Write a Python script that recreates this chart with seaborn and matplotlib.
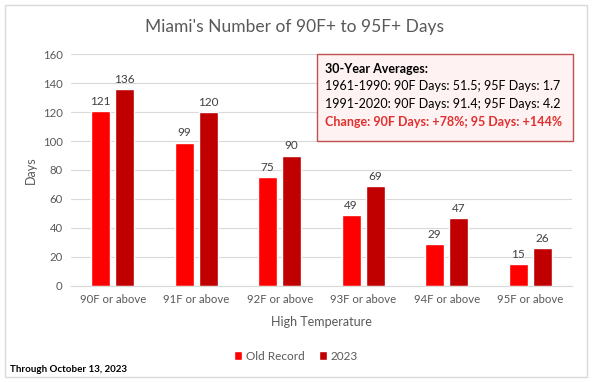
import pandas as pd
import numpy as np
import seaborn as sns
import matplotlib.pyplot as plt
from matplotlib.patches import Rectangle

# chart data
categories = ['90F or above', '91F or above', '92F or above', '93F or above', '94F or above', '95F or above']
old_record = [121, 99, 75, 49, 29, 15]
year_2023 = [136, 120, 90, 69, 47, 26]
series_names = ['Old Record', '2023']

box_lines = ['30-Year Averages:',
             '1961-1990: 90F Days: 51.5; 95F Days: 1.7',
             '1991-2020: 90F Days: 91.4; 95F Days: 4.2',
             'Change: 90F Days: +78%; 95 Days: +144%']

df = pd.DataFrame({
    'Temp': categories * 2,
    'Days': old_record + year_2023,
    'Series': [series_names[0]] * len(categories) + [series_names[1]] * len(categories),
})

sns.set_style('white')
plt.rcParams['font.family'] = ['Lato', 'DejaVu Sans']

text_col = '#595959'
fig = plt.figure(figsize=(5.92, 3.82), dpi=100)
ax = fig.add_axes([0.12, 0.252, 0.846, 0.606])

sns.barplot(data=df, x='Temp', y='Days', hue='Series', order=categories,
            hue_order=series_names, palette=['#FF0000', '#C00000'],
            width=0.575, gap=0.21, saturation=1, ax=ax, legend=True)

for cont in ax.containers:
    ax.bar_label(cont, padding=3, fontsize=8.5, color='#404040')

ax.set_ylim(0, 160)
ax.set_yticks(range(0, 161, 20))
ax.set_xlim(-0.5, len(categories) - 0.5)
ax.grid(axis='y', color='#D9D9D9', linewidth=0.8)
ax.set_axisbelow(True)
for s in ['top', 'right', 'left']:
    ax.spines[s].set_visible(False)
ax.spines['bottom'].set_color('#D9D9D9')
ax.tick_params(axis='both', length=0, labelsize=8.2, labelcolor=text_col, pad=6)
ax.set_xlabel('High Temperature', fontsize=9, color=text_col, labelpad=8)
ax.set_ylabel('Days', fontsize=9, color=text_col, labelpad=4)

leg = ax.legend(loc='center', bbox_to_anchor=(0.5, 0.068), bbox_transform=fig.transFigure,
                ncol=2, frameon=False, fontsize=8.5, handlelength=0.7, handleheight=0.7,
                handletextpad=0.3, columnspacing=1.2)
for t in leg.get_texts():
    t.set_color(text_col)

fig.text(0.497, 0.93, "Miami's Number of 90F+ to 95F+ Days", ha='center', va='center',
         fontsize=12.5, color=text_col)

# averages box
fig.patches.append(Rectangle((317 / 592, 1 - 141 / 382), 256 / 592, 87 / 382,
                             transform=fig.transFigure, facecolor='#FFF2F2',
                             edgecolor='#C0504D', linewidth=1, zorder=5))
ys = [69, 86.5, 104, 121.5]
for i, line in enumerate(box_lines):
    col = '#000000'
    weight = 'normal'
    if i == 0:
        weight = 'bold'
    if i == 3:
        col = '#E0302F'
        weight = 'bold'
    fig.text(325 / 592, 1 - ys[i] / 382, line, ha='left', va='center', fontsize=9,
             color=col, fontweight=weight, zorder=6)

fig.text(10 / 592, 1 - 370 / 382, 'Through October 13, 2023', ha='left', va='center',
         fontsize=7, fontweight='bold', color='#000000')

# outer border
fig.patches.append(Rectangle((5 / 592, 5 / 382), 582 / 592, 372 / 382,
                             transform=fig.transFigure, facecolor='none',
                             edgecolor='#D9D9D9', linewidth=1))

fig.savefig('out.png', dpi=100)
